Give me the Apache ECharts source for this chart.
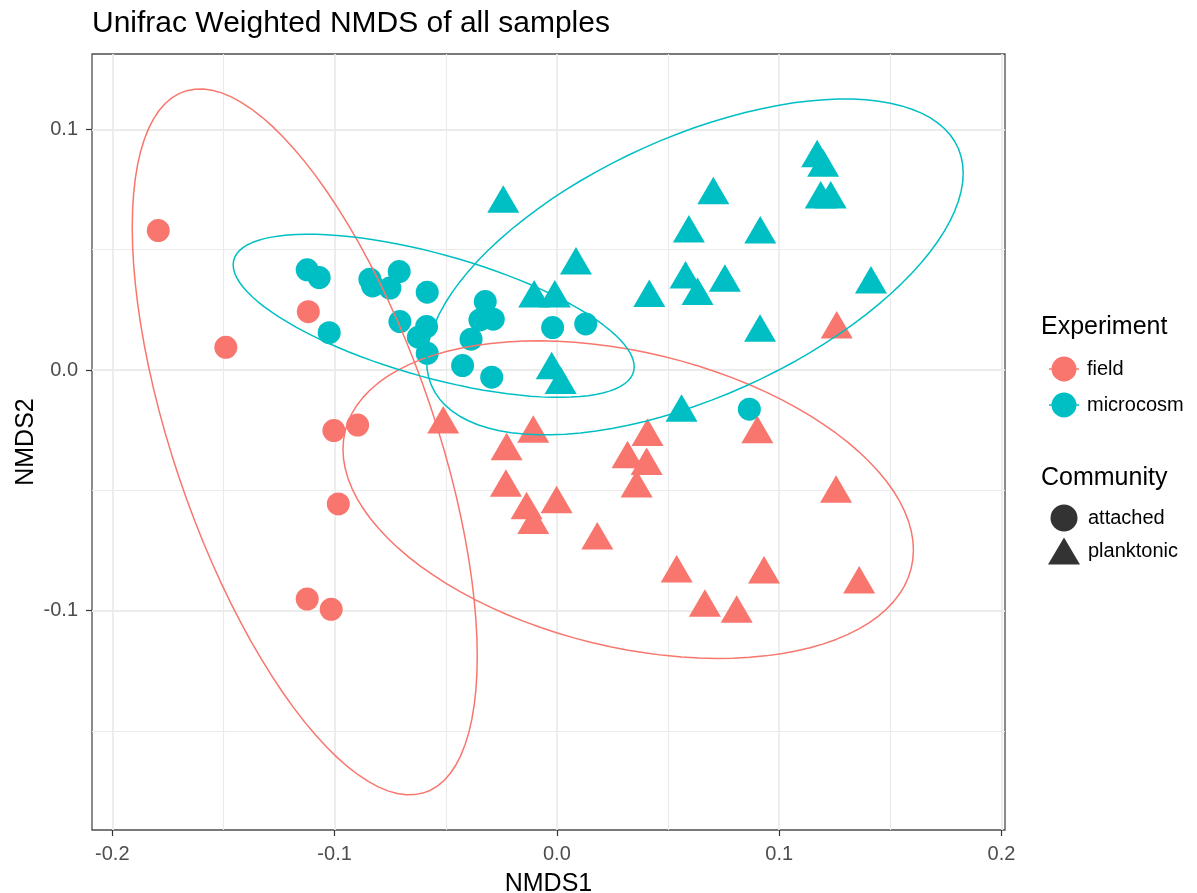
<!DOCTYPE html>
<html>
<head>
<meta charset="utf-8">
<script src="https://cdn.jsdelivr.net/npm/echarts@6/dist/echarts.min.js"></script>
<style>html,body{margin:0;padding:0;background:#fff;}#chart{width:1197px;height:893px;}</style>
</head>
<body>
<div id="chart"></div>
<script>
// ---- data ----
const titleText = 'Unifrac Weighted NMDS of all samples';
const xAxisTitle = 'NMDS1';
const yAxisTitle = 'NMDS2';
const experiments = ['field', 'microcosm'];
const communities = ['attached', 'planktonic'];
const legendTitles = ['Experiment', 'Community'];
const xTicks = [-0.2, -0.1, 0.0, 0.1, 0.2];
const yTicks = [-0.1, 0.0, 0.1];

const microcosmAttached = [
  [-0.1123, 0.0416], [-0.1069, 0.0384], [-0.1024, 0.0155], [-0.0841, 0.0377], [-0.0829, 0.0349],
  [-0.0751, 0.0340], [-0.0709, 0.0409], [-0.0583, 0.0323], [-0.0706, 0.0201], [-0.0586, 0.0180],
  [-0.0623, 0.0136], [-0.0583, 0.0069], [-0.0322, 0.0284], [-0.0346, 0.0208], [-0.0286, 0.0211],
  [-0.0386, 0.0128], [-0.0424, 0.0018], [-0.0293, -0.0030], [-0.0019, 0.0176], [0.0130, 0.0191],
  [0.0866, -0.0163]
];
const microcosmPlanktonic = [
  [-0.0241, 0.0691], [-0.0102, 0.0298], [0.0086, 0.0435], [-0.0009, 0.0298], [-0.0023, -0.0001],
  [0.0017, -0.0062], [0.0416, 0.0300], [0.0561, -0.0177], [0.0704, 0.0727], [0.0594, 0.0568],
  [0.0915, 0.0564], [0.0579, 0.0377], [0.0633, 0.0308], [0.0756, 0.0363], [0.0914, 0.0155],
  [0.1413, 0.0356], [0.1171, 0.0880], [0.1198, 0.0841], [0.1187, 0.0709], [0.1232, 0.0709]
];
const fieldAttached = [
  [-0.1793, 0.0579], [-0.1489, 0.0094], [-0.1118, 0.0242], [-0.1003, -0.0252], [-0.0896, -0.0229],
  [-0.0983, -0.0557], [-0.1123, -0.0952], [-0.1015, -0.0995]
];
const fieldPlanktonic = [
  [-0.0511, -0.0226], [-0.0106, -0.0265], [0.0408, -0.0278], [0.0902, -0.0267], [0.1259, 0.0169],
  [-0.0226, -0.0337], [-0.0229, -0.0489], [-0.0136, -0.0582], [-0.0106, -0.0644], [-0.0001, -0.0558],
  [0.0318, -0.0371], [0.0404, -0.0399], [0.0359, -0.0492], [0.0182, -0.0708], [0.1256, -0.0514],
  [0.0539, -0.0845], [0.0666, -0.0988], [0.0809, -0.1013], [0.0932, -0.0849], [0.1360, -0.0891]
];
// ellipse parameters: [centre x, centre y, half-width, half-height, correlation]
const fieldAttachedEllipse = [-0.1134, -0.0299, 0.0776, 0.1467, -0.608];
const fieldPlanktonicEllipse = [0.0321, -0.0539, 0.1283, 0.0660, -0.317];
const microcosmAttachedEllipse = [-0.0554, 0.0225, 0.0902, 0.0339, -0.625];
const microcosmPlanktonicEllipse = [0.0621, 0.0428, 0.1207, 0.0698, 0.558];

// ---- styling ----
const RED = '#F8766D', CYAN = '#00BFC4';
const FONT = "'Liberation Sans', Arial, sans-serif";
const X_MIN = -0.2091, X_MAX = 0.2016, Y_MIN = -0.1912, Y_MAX = 0.1313;
const GRID_LINE = '#EBEBEB';
const TRI_SIZE = [32, 27.5];
const TRI_OFFSET = [0, -TRI_SIZE[1] / 6];

function ellipsePath(p) {
  const cx = p[0], cy = p[1], w = p[2], h = p[3], r = p[4];
  const s = Math.sqrt(1 - r * r);
  const pts = [];
  for (let i = 0; i <= 100; i++) {
    const t = 2 * Math.PI * i / 100;
    pts.push([cx + w * Math.cos(t), cy + h * (r * Math.cos(t) + s * Math.sin(t))]);
  }
  return pts;
}
function fmt(v) { return (Math.abs(v) < 1e-9 ? 0 : v).toFixed(1); }

function pointSeries(name, data, shape, color) {
  const tri = shape === 'triangle';
  return {
    name: name, type: 'scatter', xAxisIndex: 0, yAxisIndex: 0, data: data,
    symbol: shape, symbolSize: tri ? TRI_SIZE : 23, symbolOffset: tri ? TRI_OFFSET : [0, 0],
    itemStyle: { color: color, opacity: 1 }, z: 2, silent: true
  };
}
function ellipseSeries(name, params, color) {
  return {
    name: name, type: 'line', xAxisIndex: 0, yAxisIndex: 0, data: ellipsePath(params),
    showSymbol: false, symbol: 'none', smooth: false,
    lineStyle: { color: color, width: 1.5 }, itemStyle: { color: color }, z: 3, silent: true
  };
}

const keyIcon = 'path://M0,11.75h30v1.5h-30z M27.5,12.5a12.5,12.5 0 1,1 -25,0a12.5,12.5 0 1,1 25,0z';

const chart = echarts.init(document.getElementById('chart'), null, { renderer: 'canvas' });
const option = {
  backgroundColor: '#ffffff',
  animation: false,
  title: {
    text: titleText, left: 92, top: 9, padding: 0,
    textStyle: { fontSize: 30, fontWeight: 'normal', color: '#000', fontFamily: FONT }
  },
  grid: [
    { left: 92, right: 192, top: 54, bottom: 63, show: true, borderColor: '#4d4d4d', borderWidth: 1.3, backgroundColor: 'transparent', outerBoundsMode: 'none', containLabel: false },
    { left: 112.3, right: 195.5, top: 54, bottom: 63, outerBoundsMode: 'none', containLabel: false },
    { left: 92, right: 192, top: 129.4, bottom: 41.8, outerBoundsMode: 'none', containLabel: false },
    { left: 92, right: 192, top: 129.4, bottom: 282.4, outerBoundsMode: 'none', containLabel: false }
  ],
  xAxis: [
    { gridIndex: 0, type: 'value', min: X_MIN, max: X_MAX, name: xAxisTitle, nameLocation: 'middle', nameGap: 42,
      nameTextStyle: { fontSize: 25, color: '#000', fontFamily: FONT },
      axisLine: { show: false }, axisTick: { show: false }, axisLabel: { show: false }, splitLine: { show: false } },
    { gridIndex: 1, type: 'value', min: xTicks[0], max: xTicks[xTicks.length - 1], interval: 0.1,
      axisLine: { show: false },
      axisTick: { show: true, length: 6, lineStyle: { color: '#333', width: 1.2 } },
      axisLabel: { fontSize: 20, color: '#4d4d4d', margin: 14, fontFamily: FONT, formatter: fmt },
      splitLine: { show: true, lineStyle: { color: GRID_LINE, width: 1.8 } },
      minorTick: { show: false, splitNumber: 2 },
      minorSplitLine: { show: true, lineStyle: { color: GRID_LINE, width: 1.1 } } },
    { gridIndex: 2, type: 'value', show: false, min: 0, max: 1 },
    { gridIndex: 3, type: 'value', show: false, min: 0, max: 1 }
  ],
  yAxis: [
    { gridIndex: 0, type: 'value', min: Y_MIN, max: Y_MAX, name: yAxisTitle, nameLocation: 'middle', nameGap: 53, nameRotate: 90,
      nameTextStyle: { fontSize: 25, color: '#000', fontFamily: FONT },
      axisLine: { show: false }, axisTick: { show: false }, axisLabel: { show: false }, splitLine: { show: false } },
    { gridIndex: 1, type: 'value', show: false, min: 0, max: 1 },
    { gridIndex: 2, type: 'value', min: -0.2, max: yTicks[yTicks.length - 1], interval: 0.1,
      axisLine: { show: false }, axisTick: { show: false }, axisLabel: { show: false },
      splitLine: { show: true, showMinLine: false, lineStyle: { color: GRID_LINE, width: 1.8 } },
      minorTick: { show: false, splitNumber: 2 },
      minorSplitLine: { show: true, lineStyle: { color: GRID_LINE, width: 1.1 } } },
    { gridIndex: 3, type: 'value', min: yTicks[0], max: yTicks[yTicks.length - 1], interval: 0.1,
      axisLine: { show: false },
      axisTick: { show: true, length: 6, lineStyle: { color: '#333', width: 1.2 } },
      axisLabel: { fontSize: 20, color: '#4d4d4d', margin: 14, fontFamily: FONT, formatter: fmt },
      splitLine: { show: false } }
  ],
  legend: [
    { orient: 'vertical', left: 1044, top: 351.5, itemWidth: 30, itemHeight: 25, itemGap: 11,
      data: [{ name: experiments[0], icon: keyIcon }, { name: experiments[1], icon: keyIcon }],
      textStyle: { fontSize: 20, color: '#000', fontFamily: FONT, padding: [0, 0, 0, 3] },
      selectedMode: false },
    { orient: 'vertical', left: 1043, top: 499.5, itemWidth: 32, itemHeight: 27, itemGap: 6,
      data: [
        { name: communities[0], icon: 'circle', itemStyle: { color: '#000' } },
        { name: communities[1], icon: 'triangle', itemStyle: { color: '#000' } }
      ],
      textStyle: { fontSize: 20, color: '#000', fontFamily: FONT, padding: [0, 0, 0, 3] },
      selectedMode: false }
  ],
  graphic: [
    { type: 'text', x: 1041, y: 327, style: { text: legendTitles[0], fontSize: 25, fontFamily: FONT, fill: '#000', verticalAlign: 'middle', textVerticalAlign: 'middle' } },
    { type: 'text', x: 1041, y: 478, style: { text: legendTitles[1], fontSize: 25, fontFamily: FONT, fill: '#000', verticalAlign: 'middle', textVerticalAlign: 'middle' } }
  ],
  series: [
    pointSeries(experiments[1], microcosmAttached, 'circle', CYAN),
    pointSeries(experiments[1], microcosmPlanktonic, 'triangle', CYAN),
    pointSeries(experiments[0], fieldAttached, 'circle', RED),
    pointSeries(experiments[0], fieldPlanktonic, 'triangle', RED),
    ellipseSeries('field attached ellipse', fieldAttachedEllipse, RED),
    ellipseSeries('field planktonic ellipse', fieldPlanktonicEllipse, RED),
    ellipseSeries('microcosm attached ellipse', microcosmAttachedEllipse, CYAN),
    ellipseSeries('microcosm planktonic ellipse', microcosmPlanktonicEllipse, CYAN),
    { name: communities[0], type: 'scatter', data: [], itemStyle: { color: '#000' } },
    { name: communities[1], type: 'scatter', data: [], itemStyle: { color: '#000' } }
  ]
};
chart.setOption(option);
</script>
</body>
</html>
